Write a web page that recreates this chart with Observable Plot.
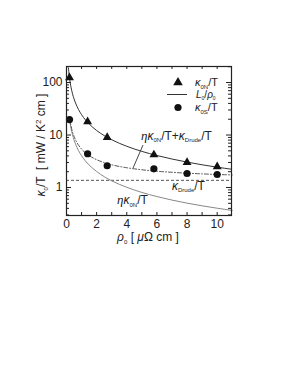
<!DOCTYPE html>
<html><head><meta charset="utf-8">
<script src="https://cdn.jsdelivr.net/npm/d3@7"></script>
<script src="https://cdn.jsdelivr.net/npm/@observablehq/plot@0.6"></script>
<style>html,body{margin:0;padding:0;background:#fff}svg{display:block}</style>
</head><body><div id="chart"></div>
<script>
// measured points
const rhoPts = [0.2, 1.4, 2.7, 5.8, 8.0, 10.0];
const kappaN = [124, 18, 9.0, 4.2, 3.0, 2.5];   // κ0N/T
const kappaS = [19.7, 4.4, 2.6, 2.27, 1.85, 1.77]; // κ0S/T
// curve L0/ρ0
const rhoL = [0.13, 0.15, 0.2, 0.25, 0.3, 0.4, 0.5, 0.6, 0.8, 1, 1.25, 1.5, 2, 2.5, 3, 4, 5, 6, 7, 8, 9, 10, 11];
const valL = [188, 162.7, 122, 97.6, 81.3, 61, 48.8, 40.7, 30.5, 24.4, 19.5, 16.3, 12.2, 9.76, 8.13, 6.1, 4.88, 4.07, 3.49, 3.05, 2.71, 2.44, 2.22];
// curves ηκ0N/T and ηκ0N/T + κDrude/T
const rhoE = [0.2, 0.25, 0.3, 0.4, 0.5, 0.6, 0.8, 1, 1.25, 1.5, 2, 2.5, 3, 4, 5, 6, 7, 8, 9, 10, 11];
const valEta = [20.2, 16.1, 13.4, 10.1, 8.06, 6.72, 5.04, 4.03, 3.22, 2.69, 2.02, 1.61, 1.34, 1.01, 0.806, 0.672, 0.576, 0.504, 0.448, 0.403, 0.366];
const valSum = [21.5, 17.5, 14.8, 11.4, 9.43, 8.09, 6.41, 5.40, 4.59, 4.06, 3.39, 2.98, 2.71, 2.38, 2.18, 2.04, 1.95, 1.87, 1.82, 1.77, 1.74];
const kDrude = 1.37;
// ticks
const xTickLabels = [0, 2, 4, 6, 8, 10];
const xMinor = [0, 1, 2, 3, 4, 5, 6, 7, 8, 9, 10];
const yTickLabels = [1, 10, 100];
const yMinor = [0.3, 0.4, 0.5, 0.6, 0.7, 0.8, 0.9, 2, 3, 4, 5, 6, 7, 8, 9, 20, 30, 40, 50, 60, 70, 80, 90, 200];

const W = 289, H = 374, mL = 66, mR = 58, mT = 66, mB = 159;
const fw = W - mL - mR, fh = H - mT - mB;
const xDomain = [0, 10.95], yDomain = [0.293, 202];

const pts = rhoPts.map((r, i) => ({r, n: kappaN[i], s: kappaS[i]}));
const lineL = rhoL.map((r, i) => ({r, v: valL[i]}));
const lineE = rhoE.map((r, i) => ({r, eta: valEta[i], sum: valSum[i]}));

const plot = Plot.plot({
  width: W, height: H, marginLeft: mL, marginRight: mR, marginTop: mT, marginBottom: mB,
  style: {fontFamily: "Liberation Sans, Arial, sans-serif", fontSize: "12px", background: "#fff", color: "#222"},
  x: {domain: xDomain, ticks: xTickLabels, tickSize: 0, tickPadding: 4, label: null},
  y: {type: "log", domain: yDomain, ticks: yTickLabels, tickFormat: d => String(d), tickSize: 0, tickPadding: 4, label: null},
  marks: [
    Plot.ruleY([kDrude], {stroke: "#555", strokeWidth: 1, strokeDasharray: "3,2"}),
    Plot.line(lineL, {x: "r", y: "v", stroke: "#333", strokeWidth: 1, curve: "monotone-x", clip: true}),
    Plot.line(lineE, {x: "r", y: "eta", stroke: "#888", strokeWidth: 1, curve: "monotone-x"}),
    Plot.line(lineE, {x: "r", y: "sum", stroke: "#555", strokeWidth: 1, strokeDasharray: "4,2,1,2", curve: "monotone-x"}),
    Plot.dot(pts, {x: "r", y: "n", symbol: "triangle", r: 3.3, fill: "#111", stroke: "none"}),
    Plot.dot(pts, {x: "r", y: "s", symbol: "circle", r: 3.6, fill: "#111", stroke: "none"}),
    // inward ticks
    Plot.ruleX(xMinor, {x: d => d, insetTop: fh - 3, stroke: "#222"}),
    Plot.ruleX(xMinor, {x: d => d, insetBottom: fh - 3, stroke: "#222"}),
    Plot.ruleY(yMinor, {y: d => d, insetRight: fw - 3, stroke: "#222"}),
    Plot.ruleY(yTickLabels, {y: d => d, insetRight: fw - 5, stroke: "#222"}),
    Plot.ruleY(yMinor, {y: d => d, insetLeft: fw - 3, stroke: "#222"}),
    Plot.ruleY(yTickLabels, {y: d => d, insetLeft: fw - 5, stroke: "#222"}),
    Plot.frame({stroke: "#222", strokeWidth: 1.2})
  ]
});
document.getElementById("chart").appendChild(plot);

const xs = d3.scaleLinear().domain(xDomain).range([mL, W - mR]);
const ys = d3.scaleLog().domain(yDomain).range([H - mB, mT]);
const svg = d3.select(plot);

function rich(g, x, y, segs, opts = {}) {
  const t = g.append("text").attr("x", x).attr("y", y)
    .attr("font-family", "Liberation Sans, Arial, sans-serif")
    .attr("font-size", opts.size || 12).attr("fill", "#222")
    .attr("text-anchor", opts.anchor || "start");
  if (opts.transform) t.attr("transform", opts.transform);
  let shift = 0;
  for (const s of segs) {
    const sp = t.append("tspan").text(s.t);
    const want = s.sub ? 2.5 : s.sup ? -4 : 0;
    if (want !== shift) { sp.attr("dy", want - shift); shift = want; }
    if (s.sub) sp.attr("font-size", opts.subSize || 6);
    if (s.sup) sp.attr("font-size", 8);
    if (s.it) sp.attr("font-style", "italic");
    if (s.serif) sp.attr("font-family", "Liberation Serif, serif");
    if (s.size) sp.attr("font-size", s.size);
  }
  return t;
}
const ann = svg.append("g");
// sum annotation
rich(ann, xs(4.98), ys(7.9), [{t: "η", it: true, serif: true, size: 13}, {t: "κ", it: true}, {t: "0N", sub: true}, {t: "/T+"}, {t: "κ", it: true}, {t: "Drude", sub: true}, {t: "/T"}]);
ann.append("line").attr("x1", xs(5.11)).attr("y1", ys(6.3)).attr("x2", xs(4.45)).attr("y2", ys(2.3))
  .attr("stroke", "#333").attr("stroke-width", 0.9);
rich(ann, xs(7.03), ys(0.88), [{t: "κ", it: true}, {t: "Drude", sub: true}, {t: "/T"}]);
rich(ann, xs(3.39), ys(0.474), [{t: "η", it: true, serif: true, size: 13}, {t: "κ", it: true}, {t: "0N", sub: true}, {t: "/T"}]);

// legend
const lg = svg.append("g");
lg.append("path").attr("d", d3.symbol(d3.symbolTriangle, 40)()).attr("transform", "translate(178,82.5)").attr("fill", "#111");
rich(lg, 195, 86, [{t: "κ", it: true}, {t: "0N", sub: true}, {t: "/T"}], {size: 11});
lg.append("line").attr("x1", 167).attr("x2", 187).attr("y1", 94.5).attr("y2", 94.5).attr("stroke", "#333");
rich(lg, 196, 97.5, [{t: "L", it: true}, {t: "0", sub: true}, {t: "/"}, {t: "ρ", it: true}, {t: "0", sub: true}], {size: 10, subSize: 5});
lg.append("circle").attr("cx", 178).attr("cy", 107.5).attr("r", 3.6).attr("fill", "#111");
rich(lg, 195, 111, [{t: "κ", it: true}, {t: "0S", sub: true}, {t: "/T"}], {size: 11});

// axis titles
rich(svg, 148, 241, [{t: "ρ", it: true}, {t: "0", sub: true}, {t: " [ "}, {t: "μ", it: true}, {t: "Ω cm ]"}], {anchor: "middle", size: 12});
rich(svg, 0, 0, [{t: "κ", it: true}, {t: "0", sub: true}, {t: "/T  [ mW / K"}, {t: "2", sup: true}, {t: " cm ]"}], {anchor: "middle", size: 12, transform: "translate(45,145) rotate(-90)"});
</script></body></html>
